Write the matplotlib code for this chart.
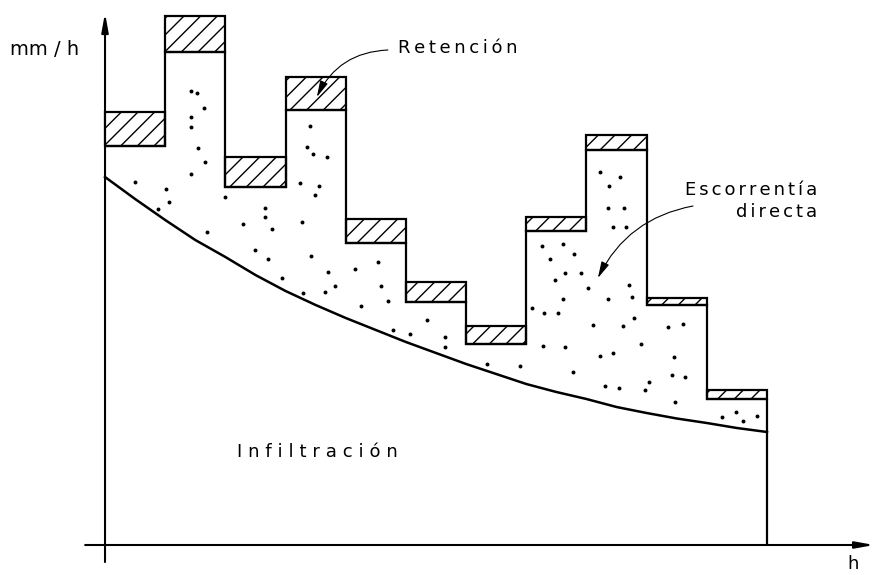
import numpy as np
import matplotlib.pyplot as plt

# --- datos (h, mm/h) ---
horas = np.arange(12)  # bordes de los intervalos de 1 h
lluvia = [43.3, 52.9, 38.8, 46.8, 32.6, 26.3, 21.9, 32.8, 41.0, 24.7, 15.5]
retencion = [3.4, 3.6, 3.0, 3.3, 2.4, 2.0, 1.8, 1.4, 1.5, 0.7, 0.9]
neta = [l - r for l, r in zip(lluvia, retencion)]

# curva de infiltracion
inf_t = [0, 0.5, 1, 1.5, 2, 2.5, 3, 3.5, 4, 4.5, 5, 5.5, 6, 6.5, 7, 7.5,
         8, 8.5, 9, 9.5, 10, 10.5, 11]
inf_v = [36.8, 34.6, 32.5, 30.5, 28.8, 27.0, 25.4, 24.0, 22.7, 21.5, 20.3,
         19.2, 18.1, 17.1, 16.1, 15.3, 14.6, 13.8, 13.2, 12.65, 12.2, 11.7, 11.3]

# punteado de la escorrentia directa
punto_t = [1.43, 1.53, 1.65, 1.43, 1.43, 1.55, 1.66, 1.43, 0.50, 0.88, 1.06,
           1.99, 2.66, 2.66, 2.78, 2.29, 1.69, 2.49, 3.27, 3.41, 3.36, 3.46,
           3.69, 3.24, 3.56, 3.49, 1.01, 2.71, 2.94, 3.42, 3.71, 3.82, 4.15,
           4.54, 4.59, 3.29, 3.66, 4.25, 4.70, 4.79, 5.07, 5.35, 5.65, 5.65,
           8.23, 8.56, 8.37, 8.36, 8.62, 8.44, 8.66, 7.26, 7.61, 7.79, 7.39,
           7.64, 7.91, 7.48, 8.03, 8.36, 8.71, 8.76, 7.61, 7.10, 7.29, 7.53,
           8.11, 8.61, 8.79, 7.28, 7.64, 8.23, 8.44, 8.91, 7.78, 6.90, 6.35,
           9.45, 9.42, 9.64, 9.36, 9.60, 8.31, 8.54, 8.97, 9.04, 9.47, 10.25,
           10.49, 10.60, 10.83]
punto_v = [45.4, 45.2, 43.7, 42.8, 41.8, 39.7, 38.3, 37.1, 36.3, 33.6, 34.3,
           34.8, 33.7, 32.8, 31.6, 32.1, 31.3, 29.5, 32.3, 41.9, 39.8, 39.1,
           38.8, 36.2, 35.9, 35.0, 35.6, 28.6, 26.7, 28.9, 27.3, 25.9, 27.6,
           28.3, 25.9, 25.2, 25.3, 23.9, 24.4, 21.5, 21.1, 22.5, 20.8, 19.8,
           37.3, 36.8, 35.9, 33.7, 33.7, 31.8, 31.8, 29.9, 30.1, 29.1, 28.6,
           27.2, 27.2, 26.5, 25.7, 24.6, 26.0, 24.8, 24.6, 23.7, 23.2, 23.2,
           22.0, 21.9, 22.7, 19.9, 19.8, 18.9, 19.2, 20.1, 17.3, 17.9, 18.1,
           18.8, 17.0, 16.8, 21.8, 22.1, 15.9, 15.7, 15.5, 16.3, 14.3, 12.8,
           13.3, 12.4, 12.9]

plt.rcParams['font.family'] = 'DejaVu Sans'
plt.rcParams['hatch.linewidth'] = 1.0

fig = plt.figure(figsize=(8.77, 5.75), dpi=100)
ax = fig.add_axes([0, 0, 1, 1])
ax.axis('off')
ax.set_xlim(-1.745, 12.828)
ax.set_ylim(-3.0, 54.5)

# ejes con flechas
flecha_eje = dict(arrowstyle='-|>,head_length=1.1,head_width=0.2',
                  lw=1.5, color='k', shrinkA=0, shrinkB=0)
ax.annotate('', xy=(0, 53.2), xytext=(0, -1.7), arrowprops=flecha_eje)
ax.annotate('', xy=(12.78, 0), xytext=(-0.33, 0), arrowprops=flecha_eje)

# cajas de retencion
ax.bar(horas[:-1], retencion, bottom=neta, width=1, align='edge',
       facecolor='white', edgecolor='k', hatch='//', lw=1.6, zorder=3)

# contorno de la lluvia neta
ax.stairs(neta, horas, baseline=None, color='k', lw=1.6, zorder=3)
ax.vlines(horas[-1], 0, neta[-1], color='k', lw=1.6, zorder=3)

# infiltracion
ax.plot(inf_t, inf_v, color='k', lw=1.8, zorder=3)

# escorrentia directa (punteado)
ax.scatter(punto_t, punto_v, s=8, c='k', lw=0, zorder=2)

# textos
def espaciado(s, gap):
    return gap.join(s)

ax.text(-1.0, 49.0, 'mm / h', fontsize=14, ha='center', va='baseline')
ax.text(12.43, -2.4, 'h', fontsize=13, ha='center', va='baseline')
ax.text(4.87, 49.2, espaciado('Retención', '\u2009'), fontsize=13,
        ha='left', va='baseline')
ax.text(11.83, 35.0, espaciado('Escorrentía', '\u2006'), fontsize=13,
        ha='right', va='baseline')
ax.text(11.83, 32.8, espaciado('directa', '\u2006'), fontsize=13,
        ha='right', va='baseline')
ax.text(2.19, 8.8, espaciado('Infiltración', '\u2004'), fontsize=13,
        ha='left', va='baseline')

# flechas de las etiquetas
flecha = dict(arrowstyle='-|>,head_length=1.0,head_width=0.25', lw=0.8,
              color='k', shrinkA=0, shrinkB=0)
ax.annotate('', xy=(3.52, 44.8), xytext=(4.70, 49.5),
            arrowprops=dict(flecha, connectionstyle='arc3,rad=0.3'), zorder=4)
ax.annotate('', xy=(8.19, 26.7), xytext=(9.77, 33.9),
            arrowprops=dict(flecha, connectionstyle='arc3,rad=0.25'), zorder=4)

fig.savefig('out.png', dpi=100)
